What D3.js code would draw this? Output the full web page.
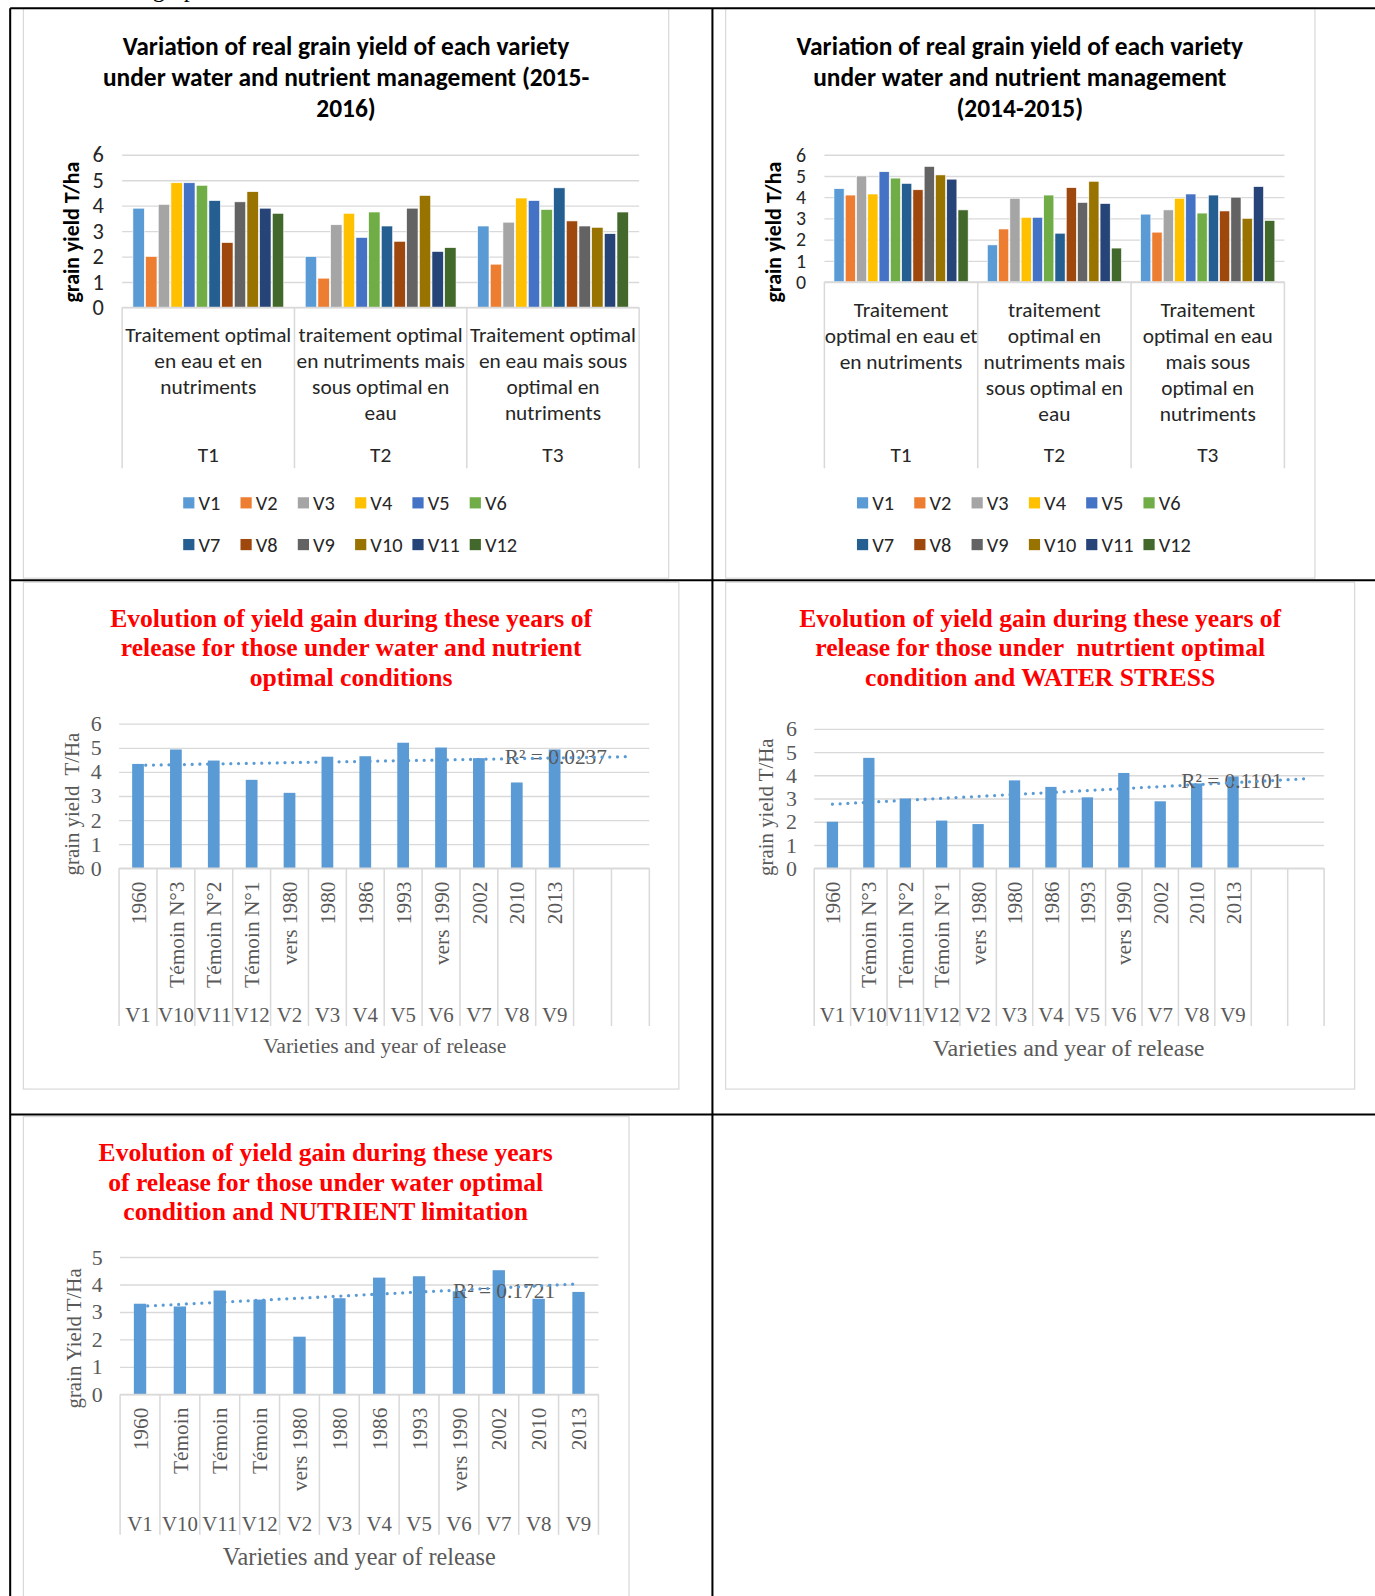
<!DOCTYPE html>
<html lang="en">
<head>
<meta charset="UTF-8">
<title>grain yield</title>
<script src="https://cdn.jsdelivr.net/npm/d3@7"></script>
<style>
  body { margin: 0; background: #fff; }
  svg { display: block; }
  text { white-space: pre; }
</style>
</head>
<body>
<svg id="page" width="1375" height="1596" viewBox="0 0 1351 1568"></svg>
<script>
// ---- data ----
var varieties = ["V1", "V2", "V3", "V4", "V5", "V6", "V7", "V8", "V9", "V10", "V11", "V12"];
var varietyColors = ["#5B9BD5", "#ED7D31", "#A5A5A5", "#FFC000", "#4472C4", "#70AD47",
                     "#255E91", "#9E480E", "#636363", "#997300", "#264478", "#43682B"];
var treatments = ["T1", "T2", "T3"];
var treatText2016 = [
  ["Traitement optimal", "en eau et en", "nutriments"],
  ["traitement optimal", "en nutriments mais", "sous optimal en", "eau"],
  ["Traitement optimal", "en eau mais sous", "optimal en", "nutriments"]
];
var treatText2015 = [
  ["Traitement", "optimal en eau et", "en nutriments"],
  ["traitement", "optimal en", "nutriments mais", "sous optimal en", "eau"],
  ["Traitement", "optimal en eau", "mais sous", "optimal en", "nutriments"]
];
// rows = T1, T2, T3 ; columns = V1..V12
var yield2016 = [
  [3.9, 2.0, 4.05, 4.9, 4.9, 4.8, 4.2, 2.55, 4.15, 4.55, 3.9, 3.7],
  [2.0, 1.15, 3.25, 3.7, 2.75, 3.75, 3.2, 2.6, 3.9, 4.4, 2.2, 2.35],
  [3.2, 1.7, 3.35, 4.3, 4.2, 3.85, 4.7, 3.4, 3.2, 3.15, 2.9, 3.75]
];
var yield2015 = [
  [4.4, 4.1, 5.0, 4.15, 5.2, 4.9, 4.65, 4.35, 5.45, 5.05, 4.85, 3.4],
  [1.75, 2.5, 3.95, 3.05, 3.05, 4.1, 2.3, 4.45, 3.75, 4.75, 3.7, 1.6],
  [3.2, 2.35, 3.4, 3.95, 4.15, 3.25, 4.1, 3.35, 4.0, 3.0, 4.5, 2.9]
];

var releaseOrder = ["V1", "V10", "V11", "V12", "V2", "V3", "V4", "V5", "V6", "V7", "V8", "V9"];
var releaseYear = ["1960", "Témoin N°3", "Témoin N°2", "Témoin N°1", "vers 1980", "1980",
                   "1986", "1993", "vers 1990", "2002", "2010", "2013"];
var releaseYearShort = ["1960", "Témoin", "Témoin", "Témoin", "vers 1980", "1980",
                        "1986", "1993", "vers 1990", "2002", "2010", "2013"];
var gainOptimal = [4.33, 4.93, 4.47, 3.67, 3.13, 4.63, 4.65, 5.21, 5.01, 4.57, 3.56, 4.93];
var gainWaterStress = [2.0, 4.75, 3.0, 2.05, 1.9, 3.78, 3.5, 3.05, 4.1, 2.88, 3.65, 3.95];
var gainNutrientLimit = [3.3, 3.2, 3.78, 3.45, 2.1, 3.5, 4.25, 4.3, 3.75, 4.52, 3.48, 3.73];
var r2Labels = ["R² = 0.0237", "R² = 0.1101", "R² = 0.1721"];

// ---- page ----
var svg = d3.select("#page");
var SANS = "Carlito, Lato, 'Liberation Sans', sans-serif";
var SERIF = "'Liberation Serif', 'DejaVu Serif', serif";

svg.append("text").attr("x", 150).attr("y", -3)
  .attr("font-family", SERIF).attr("font-size", 24).attr("fill", "#000")
  .text("graphs");

function frame(x, y, w, h) {
  svg.append("rect").attr("x", x).attr("y", y).attr("width", w).attr("height", h)
    .attr("fill", "#fff").attr("stroke", "#d9d9d9").attr("stroke-width", 1.2);
}

// grouped bar charts (top row)
function groupedChart(o) {
  frame(o.box[0], o.box[1], o.box[2], o.box[3]);
  var g = svg.append("g");

  o.title.forEach(function(t, i) {
    g.append("text").attr("x", o.titleX).attr("y", o.titleY + i * 30.5)
      .attr("text-anchor", "middle").attr("dy", "0.35em")
      .attr("font-family", SANS).attr("font-weight", "bold").attr("font-size", 25)
      .attr("fill", "#000").text(t);
  });

  var x0 = d3.scaleBand().domain(treatments).range([o.left, o.right]);
  var x1 = d3.scaleBand().domain(varieties).range([0, x0.bandwidth()])
    .paddingInner(0.1).paddingOuter(0.85);
  var y = d3.scaleLinear().domain([0, 6]).range([o.base, o.top]);

  var ax = g.append("g").attr("transform", "translate(" + o.left + ",0)")
    .call(d3.axisLeft(y).ticks(6).tickSize(-(o.right - o.left)).tickPadding(18));
  ax.select(".domain").remove();
  ax.selectAll("line").attr("stroke", "#d9d9d9").attr("stroke-width", 1.3);
  ax.selectAll("text").attr("font-family", SANS).attr("font-size", o.tickFont).attr("fill", "#262626");

  g.append("text")
    .attr("transform", "translate(" + o.yTitleX + "," + o.yTitleY + ") rotate(-90)")
    .attr("text-anchor", "middle").attr("dy", "0.35em")
    .attr("font-family", SANS).attr("font-weight", "bold").attr("font-size", 21.5)
    .attr("fill", "#000").text("grain yield T/ha");

  g.selectAll("g.grp").data(o.values).join("g")
    .attr("transform", function(d, i) { return "translate(" + x0(treatments[i]) + ",0)"; })
    .selectAll("rect").data(function(d) { return d; }).join("rect")
    .attr("x", function(d, i) { return x1(varieties[i]); })
    .attr("y", function(d) { return y(d); })
    .attr("width", x1.bandwidth())
    .attr("height", function(d) { return y(0) - y(d); })
    .attr("fill", function(d, i) { return varietyColors[i]; })
    .attr("stroke", "#fff").attr("stroke-width", 0.6);

  // category axis separators
  var edges = [o.left].concat(treatments.map(function(t) { return x0(t) + x0.bandwidth(); }));
  g.selectAll("line.sep").data(edges).join("line")
    .attr("x1", function(d) { return d; }).attr("x2", function(d) { return d; })
    .attr("y1", o.base).attr("y2", o.catBottom)
    .attr("stroke", "#d9d9d9").attr("stroke-width", 1.5);
  g.append("line").attr("x1", o.left).attr("x2", o.right).attr("y1", o.base).attr("y2", o.base)
    .attr("stroke", "#d9d9d9").attr("stroke-width", 1.5);

  treatments.forEach(function(t, i) {
    var cx = x0(t) + x0.bandwidth() / 2;
    o.catText[i].forEach(function(line, k) {
      g.append("text").attr("x", cx).attr("y", o.catY + k * 25.5).attr("dy", "0.35em")
        .attr("text-anchor", "middle").attr("font-family", SANS).attr("font-size", 21)
        .attr("fill", "#262626").text(line);
    });
    g.append("text").attr("x", cx).attr("y", o.tY).attr("dy", "0.35em")
      .attr("text-anchor", "middle").attr("font-family", SANS).attr("font-size", 21)
      .attr("fill", "#262626").text(t);
  });

  // legend, two rows of six
  var lg = g.selectAll("g.leg").data(varieties).join("g")
    .attr("transform", function(d, i) {
      return "translate(" + (o.legendX + (i % 6) * 56.3) + "," + (o.legendY + Math.floor(i / 6) * 41) + ")";
    });
  lg.append("rect").attr("x", 0).attr("y", -5.5).attr("width", 11).attr("height", 11)
    .attr("fill", function(d, i) { return varietyColors[i]; });
  lg.append("text").attr("x", 15).attr("dy", "0.35em")
    .attr("font-family", SANS).attr("font-size", 20).attr("fill", "#262626")
    .text(function(d) { return d; });
}

// release-year charts with linear trendline
function gainChart(o) {
  frame(o.box[0], o.box[1], o.box[2], o.box[3]);
  var g = svg.append("g");

  o.title.forEach(function(t, i) {
    g.append("text").attr("x", o.titleX).attr("y", o.titleY + i * 29).attr("dy", "0.35em")
      .attr("text-anchor", "middle").attr("font-family", SERIF).attr("font-weight", "bold")
      .attr("font-size", 25.2).attr("fill", "#FF0000").text(t);
  });

  var slots = d3.range(o.slots);
  var x = d3.scaleBand().domain(slots).range([o.left, o.right]).paddingInner(0.69).paddingOuter(0.345);
  var step = x.step();
  var y = d3.scaleLinear().domain([0, o.yMax]).range([o.base, o.top]);

  var ax = g.append("g").attr("transform", "translate(" + o.left + ",0)")
    .call(d3.axisLeft(y).ticks(o.yMax).tickSize(-(o.right - o.left)).tickPadding(17));
  ax.select(".domain").remove();
  ax.selectAll("line").attr("stroke", "#d9d9d9").attr("stroke-width", 1.3);
  ax.selectAll("text").attr("font-family", SERIF).attr("font-size", 21.5).attr("fill", "#595959");

  g.append("text")
    .attr("transform", "translate(" + o.yTitleX + "," + o.yTitleY + ") rotate(-90)")
    .attr("text-anchor", "middle").attr("dy", "0.35em")
    .attr("font-family", SERIF).attr("font-size", 20.5).attr("fill", "#595959").text(o.yTitle);

  g.selectAll("rect.bar").data(o.values).join("rect")
    .attr("x", function(d, i) { return x(i); })
    .attr("y", function(d) { return y(d); })
    .attr("width", x.bandwidth())
    .attr("height", function(d) { return y(0) - y(d); })
    .attr("fill", "#5B9BD5");

  // category separators
  var edges = slots.map(function(i) { return o.left + i * step; }).concat([o.right]);
  g.selectAll("line.sep").data(edges).join("line")
    .attr("x1", function(d) { return d; }).attr("x2", function(d) { return d; })
    .attr("y1", o.base).attr("y2", o.catBottom)
    .attr("stroke", "#d9d9d9").attr("stroke-width", 1.5);
  g.append("line").attr("x1", o.left).attr("x2", o.right).attr("y1", o.base).attr("y2", o.base)
    .attr("stroke", "#d9d9d9").attr("stroke-width", 1.5);

  var cx = function(i) { return x(i) + x.bandwidth() / 2; };
  o.years.forEach(function(t, i) {
    g.append("text").attr("transform", "translate(" + (cx(i) + 7.5) + "," + o.yearTop + ") rotate(-90)")
      .attr("text-anchor", "end").attr("font-family", SERIF).attr("font-size", 21)
      .attr("fill", "#595959").text(t);
    g.append("text").attr("x", cx(i)).attr("y", o.vY).attr("dy", "0.35em")
      .attr("text-anchor", "middle").attr("font-family", SERIF).attr("font-size", 20.5)
      .attr("fill", "#595959").text(releaseOrder[i]);
  });

  g.append("text").attr("x", o.xTitleX).attr("y", o.xTitleY).attr("dy", "0.35em")
    .attr("text-anchor", "middle").attr("font-family", SERIF).attr("font-size", o.xTitleSize)
    .attr("fill", "#595959").text("Varieties and year of release");

  // least squares line over x = 1..12, drawn across all categories
  var xs = o.values.map(function(d, i) { return i + 1; });
  var mx = d3.mean(xs), my = d3.mean(o.values);
  var sxy = d3.sum(xs, function(v, i) { return (v - mx) * (o.values[i] - my); });
  var sxx = d3.sum(xs, function(v) { return (v - mx) * (v - mx); });
  var slope = sxy / sxx, icpt = my - slope * mx;
  var tr = [1, o.slots].map(function(k) { return [cx(k - 1), y(icpt + slope * k)]; });

  g.append("text").attr("x", tr[1][0] - 23).attr("y", tr[1][1] + o.r2dy).attr("dy", "0.35em")
    .attr("text-anchor", "end").attr("font-family", SERIF).attr("font-size", 21)
    .attr("fill", "#595959").text(o.r2);

  g.append("path").attr("d", d3.line()(tr))
    .attr("fill", "none").attr("stroke", "#5B9BD5").attr("stroke-width", 3.2)
    .attr("stroke-linecap", "round").attr("stroke-dasharray", "0 7.6");
}

groupedChart({
  box: [23, 8, 634, 560], title: ["Variation of real grain yield of each variety",
    "under water and nutrient management (2015-", "2016)"],
  titleX: 340, titleY: 45, left: 120, right: 628, base: 302, top: 152, tickFont: 22,
  yTitleX: 70, yTitleY: 228, catText: treatText2016, catY: 329, tY: 447, catBottom: 460,
  values: yield2016, legendX: 180, legendY: 494
});

groupedChart({
  box: [713, 8, 579, 560], title: ["Variation of real grain yield of each variety",
    "under water and nutrient management", "(2014-2015)"],
  titleX: 1002, titleY: 45, left: 810, right: 1262, base: 277, top: 152, tickFont: 19.5,
  yTitleX: 760, yTitleY: 228, catText: treatText2015, catY: 304, tY: 447, catBottom: 460,
  values: yield2015, legendX: 842, legendY: 494
});

gainChart({
  box: [23, 572, 644, 498], title: ["Evolution of yield gain during these years of",
    "release for those under water and nutrient", "optimal conditions"],
  titleX: 345, titleY: 607, left: 117, right: 638, base: 853, top: 711, yMax: 6,
  slots: 14, yTitle: "grain yield  T/Ha", yTitleX: 70, yTitleY: 790,
  values: gainOptimal, years: releaseYear, yearTop: 866, vY: 997, catBottom: 1008,
  xTitleX: 378, xTitleY: 1027, xTitleSize: 21.2, r2: r2Labels[0], r2dy: 0
});

gainChart({
  box: [713, 572, 618, 498], title: ["Evolution of yield gain during these years of",
    "release for those under  nutrtient optimal", "condition and WATER STRESS"],
  titleX: 1022, titleY: 607, left: 800, right: 1301, base: 853, top: 716, yMax: 6,
  slots: 14, yTitle: "grain yield T/Ha", yTitleX: 752, yTitleY: 793,
  values: gainWaterStress, years: releaseYear, yearTop: 866, vY: 997, catBottom: 1008,
  xTitleX: 1050, xTitleY: 1029, xTitleSize: 23.7, r2: r2Labels[1], r2dy: 2
});

gainChart({
  box: [23, 1097, 595, 490], title: ["Evolution of yield gain during these years",
    "of release for those under water optimal", "condition and NUTRIENT limitation"],
  titleX: 320, titleY: 1132, left: 118, right: 588, base: 1370, top: 1235, yMax: 5,
  slots: 12, yTitle: "grain Yield T/Ha", yTitleX: 72, yTitleY: 1315,
  values: gainNutrientLimit, years: releaseYearShort, yearTop: 1383, vY: 1497, catBottom: 1508,
  xTitleX: 353, xTitleY: 1529, xTitleSize: 23.8, r2: r2Labels[2], r2dy: 7
});

// table rules of the surrounding document
var rules = [[10, 8, 1351, 8], [10, 570, 1351, 570], [10, 1095, 1351, 1095],
             [10, 8, 10, 1568], [700, 8, 700, 1568]];
svg.selectAll("line.rule").data(rules).join("line")
  .attr("x1", function(d) { return d[0]; }).attr("y1", function(d) { return d[1]; })
  .attr("x2", function(d) { return d[2]; }).attr("y2", function(d) { return d[3]; })
  .attr("stroke", "#000").attr("stroke-width", 2);
</script>
</body>
</html>
